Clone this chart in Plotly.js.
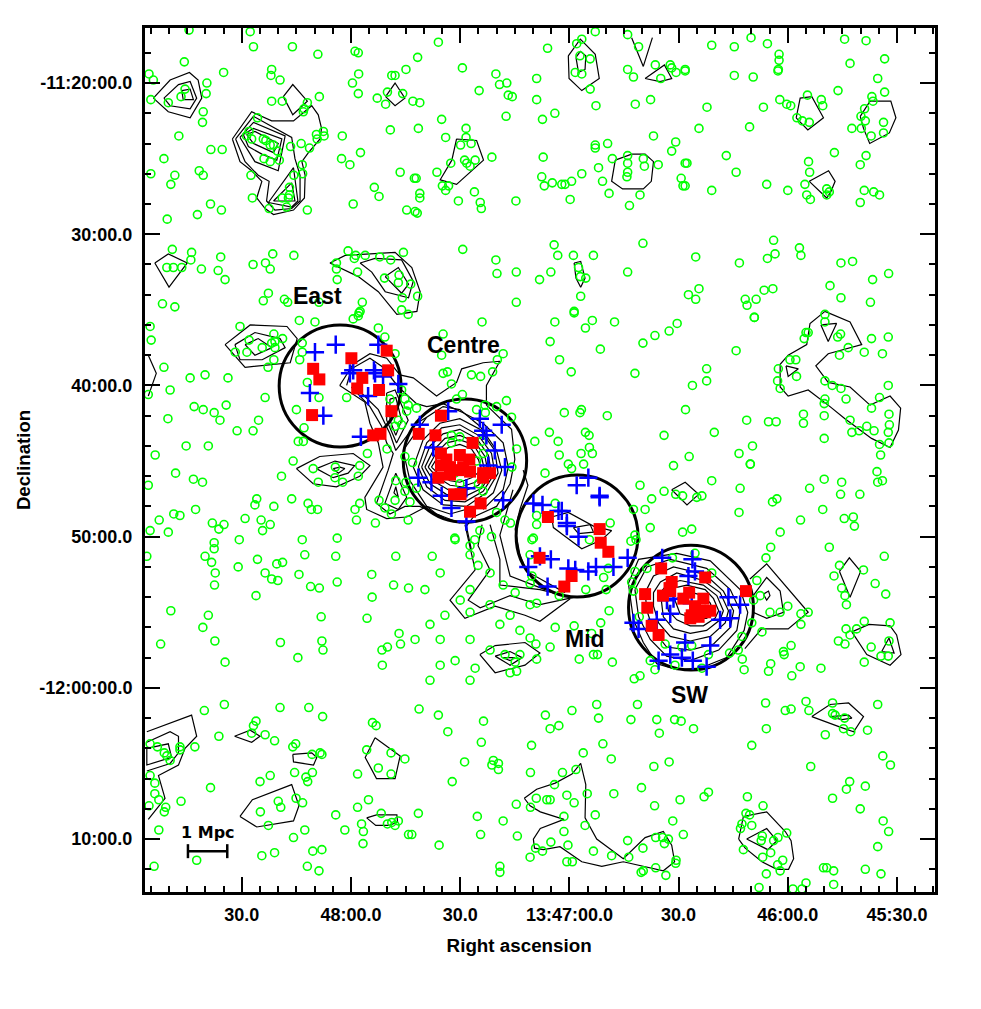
<!DOCTYPE html>
<html>
<head>
<meta charset="utf-8">
<script src="https://cdn.plot.ly/plotly-3.0.1.min.js"></script>
<style>body{margin:0;background:#fff}</style>
</head>
<body>
<div id="plot"></div>
<script>
// RA = seconds of time after 13:45:00, Dec = arcmin south of -11:00:00

var xTickVals = [210, 180, 150, 120, 90, 60, 30];
var xTickText = ['30.0', '48:00.0', '30.0', '13:47:00.0', '30.0', '46:00.0', '45:30.0'];
var yTickVals = [20, 30, 40, 50, 60, 70];
var yTickText = ['-11:20:00.0', '30:00.0', '40:00.0', '50:00.0', '-12:00:00.0', '10:00.0'];

var clusterNames = ['East', 'Centre', 'Mid', 'SW'];
var clusterRa = [183.0, 148.7, 117.9, 86.6];
var clusterDec = [40.04, 44.97, 49.96, 54.69];
var clusterRadius = [4.03, 4.08, 4.03, 4.13];
var labelRa = [189.3, 149.2, 115.7, 86.9];
var labelDec = [34.1, 37.3, 56.8, 60.5];

// green: all galaxies in the field, by part of the sky
var greenNW = [[224.5,16.5],[207.7,16.6],[206.8,17.6],[196.1,17.6],[189.1,18.1],[178.9,17.9],[178,18],[225.8,18.6],[235.5,19.4],[234.3,19.8],[215,19.3],[201.8,19.1],[202,19.5],[199.5,19.8],[177.9,19.4],[179.6,20],[178,20.7],[164.9,19.1],[168.8,19.5],[167.9,19.5],[219.6,20],[219.8,20.7],[225.6,20.4],[226.7,20.9],[230.2,21.3],[235,21.1],[201.8,21.2],[198.9,21.2],[188.7,20.9],[192,21.3],[192.9,21.7],[193.1,21.9],[172.8,21],[170,20.6],[170.5,21.4],[165.8,20.7],[163,21.2],[220.6,21.9],[220.8,22.6],[205.7,22.3],[187.6,23.2],[189.5,23.4],[189.3,23.7],[187.4,23.5],[182.4,23.5],[169.2,23.1],[227.3,23.5],[208,23.2],[208.7,23.5],[207.3,23.7],[204.1,23.7],[203.4,23.8],[202.2,24.1],[201.3,24.1],[196.6,24.2],[193.7,24],[191.4,24.3],[218.5,24.4],[215.4,24.4],[231.4,25],[200.2,24.5],[203.9,25],[202.2,25.2],[199.7,25.1],[182.6,25],[180.3,25.4],[177.4,24.6],[235,26],[228.4,26.1],[221.7,25.8],[220.6,26.1],[229.5,26.7],[207.5,26.1],[193.4,25.4],[193.3,26],[195.7,26.1],[166.5,25.9],[162.6,26.3],[173.6,26.9],[172.3,27.5],[196.9,26.9],[196.9,27.4],[198.9,27.6],[197.2,27.6],[207.1,27.6],[218.6,28],[215.6,28.4],[222.2,28.7],[179.4,28],[202.5,28.3],[197.7,28.2],[192,28.4],[164.7,28.4],[230.5,29],[162.4,28.5],[229.1,31],[223.8,31.2],[224,31.7],[215.8,31.5],[201.5,31.3],[195.7,31.4],[206.9,32],[203.5,31.9],[202.2,32.3],[180.8,31.1],[178.7,31.4],[179.1,31.6],[176.1,31.4],[172.1,31.5],[169.1,31.7],[165.6,31.2],[184,31.9],[184,32.3],[178.2,32.5],[230.6,32.2],[228.8,32.2],[226.5,32.2],[221.1,32.3],[216.5,32.4],[214.6,33],[183.8,33],[170.8,32.9],[166.8,32.7],[167,33.2],[163.6,33.3],[202.7,33.9],[204.1,34.4],[198.3,34.3],[197.4,34.5],[188.8,34.5],[176.9,34.5],[177.5,35.1],[178,35.4],[165.9,34.2],[166.1,35],[231.8,34.6],[228.4,34.8]];
var greenEastCentre = [[194.2,35.7],[189.9,35.8],[179.4,35.6],[177.8,35.2],[164.3,35.3],[172.5,36.2],[170.7,36.8],[144,35.8],[154.7,36.6],[201.2,36.6],[198.8,36.9],[201.8,37.2],[200.9,37.5],[193.4,37.2],[193.4,37.8],[194.1,38.3],[201.2,38.3],[155.1,38],[138.2,37.9],[139.8,38.3],[167.9,37.9],[146.9,39.3],[144.4,39.4],[141.1,39.1],[154.7,39.2],[153.5,39.1],[152.4,39.9],[149.4,40.6],[151,40.9],[137.3,41],[143.2,41.3],[143.1,41.8],[145.5,41.6],[140,41.4],[135.9,42.1],[192,39.8],[188.8,40.8],[181.2,40.8],[169.3,40.9],[166.1,40.3],[165.2,40.9],[164.3,41.3],[162,41.5],[164.7,41.7],[167,42.3],[195,41.6],[192.9,42.8],[166.1,42.6],[167.9,42.7],[194.5,43.7],[193.1,43.7],[170.1,44.2],[175.5,44.5],[195.9,45],[190.4,45.5],[184.3,45.4],[177.6,45.3],[199.1,46],[189,46.4],[184.4,46.1],[182.3,46.4],[178,46],[129.5,43.7],[134.5,44.2],[165.2,44.7],[163.1,45.1],[167.7,46.3],[164.9,46.4],[165.2,47],[167.9,47.6],[172.3,47.6],[177.6,47.8],[178.9,48.2],[178.5,48.9],[196.3,47.5],[191.8,47.8],[190.9,48.2],[189.2,48.2],[201.2,48],[193.4,50.2],[183.8,50.1],[173.3,49.1],[170.7,48.1],[168.9,48.5],[163.8,47.7],[162,46.8],[164.3,48.9],[152.4,43.3],[150.1,43.4],[152.4,43.8],[144.1,43.7],[143.7,44.5],[145.5,45],[151.5,45.8],[145,46.5],[150.1,46.5],[143.7,47],[140,48.4],[137.7,48.9],[136.2,49.1],[144.6,49.6],[146,50.2],[147.3,50.6],[141.4,50],[151.5,50.1],[129.9,50.1]];
var greenMidSW = [[135.8,45.4],[126.7,45.8],[120.3,45.2],[116.1,45.2],[119.4,45.5],[91.4,45.3],[70.3,45.2],[80.9,46.3],[100.6,46.6],[97.4,47.5],[94,47],[90.8,47.2],[88.9,47.3],[85,47.4],[83.6,47.3],[73.1,46.8],[64.2,47.7],[63,47.5],[102.4,48.2],[99.2,48.2],[73.4,48.4],[123.9,47.8],[129,48.6],[129,49.2],[108.8,49.1],[97.8,49.4],[88.9,49.7],[86.4,49.5],[130.3,50.2],[114.5,50.2],[102,49.9],[101.7,50.2],[103.1,50.3],[62.1,49.7],[64.7,50.7],[66,51.4],[130.8,51.2],[91.7,51.4],[85.5,51.1],[98.7,52.1],[109.3,52.1],[102,52.3],[130.3,52.6],[110.6,52.7],[80.9,52.4],[68.5,52.9],[102.9,53],[130.8,53.1],[115.5,53.5],[109.9,53.5],[102.4,53.6],[134.9,53.7],[122.8,53.9],[67.6,53.9],[69.4,54.2],[129,54.4],[130.8,54.5],[109.1,54.9],[64.9,55],[62.1,55],[100.8,55.3],[123.9,56],[118.7,55.9],[111.4,55.7],[69.9,55.7],[113.9,56.4],[67.1,56.3],[72.6,56.6],[130.8,56.7],[129.2,57.1],[125.3,57.3],[113.4,57.8],[112.3,57.8],[117.3,58.1],[129,58.1],[134.9,58.3],[134.5,58.9],[108.2,58.3],[93.7,57.1],[89.1,57.3],[86.4,57.2],[81.8,57.8],[97.8,58.2],[96.5,58.8],[91,58.5],[83.6,58.7],[76,57.7],[73.6,57.5],[72.5,58.1],[64.7,58.4],[65.3,58.9],[72,58.8],[102.2,59.4],[100.6,59.2]];
var greenEastEdge = [[69.2,35.5],[49.8,35.3],[49.8,35.8],[54.4,36.5],[55,36.5],[55.5,36.9],[45.5,36.6],[46.3,36.8],[37,36.9],[32.4,36.8],[43.4,37.5],[45.8,38],[39,37.8],[34,37.9],[59.4,38.3],[57.8,38.3],[62.6,38.9],[57.6,39.4],[62.8,39.7],[62.1,40.2],[49.8,39.7],[47.8,40],[45.4,40.2],[32.4,40],[44,40.9],[34.8,40.8],[37,41.5],[49.8,40.9],[50,41.2],[55.7,41.9],[55.7,42.5],[50,42],[71.3,42.3],[65.3,42.4],[63.2,42.4],[42.9,42.3],[32.2,41.9],[32.1,42.6],[38.3,42.7],[42.4,43.1],[40.4,43],[36.3,43],[32.4,43.1],[50,43.5],[69.7,44],[34.8,43.9],[32.2,43.8],[34.5,44.6],[70.3,45.2],[35.5,45.7],[34,46.3],[35.3,46.4],[50,46.2],[45.2,46.4],[54,46.8],[45.5,47.2],[40.2,47.2],[50.4,48.2],[44.5,48.8],[42,48.7],[41.7,49.3],[56.5,48.9],[48.6,50.7],[33.5,51.3],[45.8,51.9],[47.3,52.6],[39.2,52.2],[36,53.1],[45.2,53.4],[44.3,53.9],[33.1,53.8],[43.9,54.5],[60,54.6],[56.4,55.1],[54.4,55],[56.4,55.8],[44,56.1],[41.1,56.1],[39,55.6],[42.9,56.5],[31.9,55.7],[46.1,56.9],[44.3,57.1],[32.2,56.9],[37.1,57.3],[34.4,57.9],[32.4,57.9],[59.1,57.2],[61.2,57.6],[61,57.8],[39,58.3],[56.6,58.6],[50.9,58.7],[58.9,59.2]];
var greenTopMid = [[156,17.3],[161.7,18.3],[126,17.7],[112.9,16.6],[116.6,17.1],[118,17.4],[117.1,18.2],[114.3,18.4],[104,16.8],[101,17.6],[149.4,19],[140.2,19.4],[139.2,20.1],[137.2,20],[144.8,20.5],[136.8,20.8],[135.7,20.9],[129,19.7],[129,21.1],[118.4,19.3],[116.6,19.4],[114.3,20.4],[104,19.1],[102.4,19.6],[96.4,18.8],[92.3,18.8],[91.9,19],[90.7,19.3],[94.9,19.7],[88.2,19.1],[161.1,21.3],[112.7,21.5],[101.9,21.4],[97.7,21.1],[137.4,22.2],[127.4,22.4],[124,22],[155.1,22.4],[161.5,23],[148.4,23],[154,23.6],[148.4,23.6],[149.9,24.1],[147,24],[96.9,23.5],[90.8,23.9],[109.5,24],[112.9,24.1],[112.9,24.3],[91.9,24.5],[141.3,24.9],[127.2,24.9],[108.2,25],[104,24.8],[99.7,25],[148.8,25.1],[145.9,25.1],[148.2,25.3],[147.3,25.5],[152.6,25.3],[112,25.6],[104,25.3],[99.4,25.5],[95.6,25.4],[88.2,25.3],[156.4,25.9],[162.1,26.3],[127.6,26.2],[116.6,26],[104,25.9],[104.2,26.2],[110.9,26.5],[119.4,26.5],[124.7,26.6],[122.1,26.7],[121.2,26.7],[126.9,26.8],[154.9,26.8],[153.2,26.8],[154,27.1],[146.1,27.2],[89.3,26.3],[88.8,26.8],[109.1,27.3],[161.1,27.3],[161.1,27.6],[100.6,27.4],[150.5,27.8],[144.5,27.9],[144.2,28.3],[134.7,27.8],[119.8,27.7],[103.5,28.1],[161.8,28.6],[124.2,30.7],[99.8,30.6],[149.3,31],[140.2,31.7],[123.2,31.4],[118.9,31.4],[113.4,31.4],[139.9,32.6],[134.6,32.5],[125.1,32.5],[104,32.5],[128.2,33],[117.5,32.2],[117,32.8],[115.5,32.9],[116.9,34.1],[134.6,34.5],[118.7,35.1],[161.7,34.1]];
var greenTopRight = [[70.1,17],[80.9,17.5],[74.7,17.6],[65.6,17.4],[44.4,17.1],[38.5,17.2],[62.4,18.1],[62.4,18.5],[33.4,18.4],[62.6,19.1],[62.7,19.2],[42.9,18.7],[88.2,19.2],[74.7,19.5],[69.5,19.6],[35.3,19.7],[46.2,20.5],[33.4,20.6],[54.6,20.8],[62.2,21.1],[60.3,21.4],[59.2,21.5],[50.8,21.1],[50.4,21.5],[36.9,20.9],[36.6,21.2],[82.2,21.6],[66.7,21.6],[38.9,21.7],[39.9,22.2],[57.5,22.3],[56,22.5],[54.1,22.6],[38.7,22.5],[70.5,22.9],[84.4,23],[42.4,23],[39.8,23],[33.7,22.6],[33.7,23.3],[37.1,23.5],[47.2,24.6],[76.9,24.8],[38.5,24.8],[87.7,25.3],[40.1,25.4],[54.3,25.2],[74.2,25.9],[54,25.9],[65.8,26.7],[88.2,26.8],[80.9,27.1],[60,27.1],[55.3,26.7],[49.3,27],[48.6,27.2],[49.3,27.4],[54.8,27.4],[53.8,27.7],[39,27.1],[36.4,27.2],[34.8,27.4],[40.1,27.9],[63.9,30.4],[56.8,30.9],[56.4,31.4],[85.3,31.5],[63.5,31.3],[65.6,31.6],[73.3,31.9],[45.4,31.9],[42.2,31.8],[32.3,32.6],[36.7,33],[84.4,33.6],[48.4,33.4],[87.3,34],[85.3,34.3],[66.5,33.7],[64.1,33.6],[71.7,34.3],[68.7,34.3],[71.2,34.7],[45.4,34.2],[37.3,34.5],[69.2,35.5]];
var greenWest = [[219.2,44],[228.2,45.8],[223.3,46.2],[220.8,46.4],[235.7,46.6],[205.9,47.5],[206.4,47.9],[222.7,48.2],[228.7,48.5],[227,48.6],[232.7,48.9],[209.1,48.8],[218.1,49.1],[214.9,49.2],[216.3,49.5],[204.7,48.9],[202.2,49.2],[204.3,49.6],[235.2,49.6],[230.2,49.7],[210.7,50.2],[217.6,50.4],[217.6,50.8],[236.1,51.3],[220.1,51.3],[218.3,51.7],[205.7,51.5],[192.7,51.2],[184.2,51.3],[167.7,51.3],[198.8,51.7],[200.4,51.8],[211,52],[217.3,52.4],[203.6,52.4],[194.3,52.5],[201.8,52.8],[200.1,52.9],[174.3,52.5],[183.8,53],[217.5,53.2],[191.1,53.3],[188.7,53.4],[168.3,53.2],[164.2,53.4],[206.1,53.9],[174.2,54],[229.5,54.9],[219.2,55.2],[188.2,55.3],[175.6,55.4],[220.7,56],[166.8,56.4],[217.4,56.9],[232.3,57.1],[199.4,57],[188,56.9],[166.4,57.1],[170,57.3],[171.5,57.5],[187.7,57.5],[194.6,58],[214.6,58.3],[171.4,58.5],[210.5,36.1],[208,37],[211.8,37.8],[208.6,37.8],[204.4,37.5],[200.9,37.1],[202.8,38.8],[235.2,36.1],[234.9,37],[231.4,38.8],[224.2,39.5],[217.6,41.8],[220.6,41.6],[214.3,41.3],[235.7,40.6],[230.3,42.2],[223.1,41.4],[206.9,43],[211.3,43],[216,42.3],[225.3,44],[233.8,44.6],[229.7,40.3],[220.1,39.3],[213.8,39.5],[203.6,40.8],[205.4,42.3]];
var greenBridge = [[157.7,51.3],[151.4,50.2],[147.3,51.2],[145.1,51.9],[141.8,52.4],[138.2,53.2],[155.5,52.4],[159.7,53.5],[147.3,53.5],[150,54.2],[154.2,55.2],[147.3,55],[141.8,54.5],[136.3,55.2],[158.3,55.8],[139.1,55.8],[133.6,56.2],[155.5,56.8],[162.4,56.8],[147.3,56.8],[141.8,57.5],[137.7,57.8],[133.6,57.8],[151.4,58.2],[155.5,58.5],[145.9,58.7],[158.3,59.5],[147.3,59.5],[136.3,59]];
var greenSouthWest = [[220.3,61.5],[214.8,61.1],[199.5,61.3],[191.6,61.3],[187.8,61.9],[206.1,62.2],[206.8,62.5],[207.3,63],[203.6,63.1],[201,63.5],[216.3,63.2],[174.1,62.3],[173.1,62.5],[235.2,63.7],[233.2,63.9],[227,63.9],[227,64.1],[222.9,63.9],[231.3,64.3],[230.6,64.5],[229.7,64.8],[196,63.9],[195.2,63.7],[190.7,64.4],[188.5,64.3],[188,64.4],[175.7,64.1],[169,64.3],[165.2,64.7],[172.5,65.3],[169,65.7],[235.2,65.8],[202.2,65.8],[205,66.2],[195.5,65.6],[190.6,65.6],[192.4,65.9],[191.9,66.2],[178.2,65.7],[233.9,66.3],[218.6,66.6],[233.9,67],[232.8,67.4],[235.5,67.8],[230.9,67.9],[231.3,68.2],[226.7,67.5],[200,67.5],[199.3,67.9],[195.1,67.3],[193.3,67.6],[204.9,68.2],[175.2,67.4],[178.2,67.9],[184.2,68.4],[171.7,68.3],[177.1,69],[170,69],[168.8,68.9],[167.9,69.1],[167,68.8],[202.7,69.1],[232.8,69.4],[192.7,69.4],[181.7,69.4],[176.6,69.5],[164.2,69.7],[163.3,69.7],[195.8,69.9],[176.7,70.3],[204.5,71.1],[201,70.9],[190.5,70.8],[188,70.7],[222.4,71.4],[192,71.8],[188.8,72.1],[234.1,71.8]];
var greenSouthMid = [[161.3,61.4],[156,61.8],[143.6,62.2],[153.4,62.9],[144.2,63.6],[148.8,64.9],[140.9,64.8],[141.3,65.1],[139.5,65],[139.5,65.4],[152.2,66.2],[126.6,61.8],[119.3,61.5],[112.5,61.1],[101.3,61.1],[112,62],[103.1,62.1],[96,62.1],[91.1,62.1],[89.3,62.2],[125.3,62.7],[122.9,62.5],[95.3,63],[130.4,63.8],[110.8,63.7],[116.2,64.3],[108.5,64.7],[96.8,65.2],[92.6,64.9],[130.7,65.6],[121.9,65.6],[118.2,65.4],[124.1,66.4],[100.2,66.6],[115.1,67],[107.8,67],[120.7,67.1],[129.1,67.3],[126.2,67.4],[125.3,67.4],[118.7,67.6],[134.6,67.7],[130.7,67.9],[96.6,67.8],[89.6,67.4],[161.5,68.3],[145.3,68.5],[112.9,68.4],[121.5,68.5],[138.2,68.8],[115.7,69.1],[91.6,68.8],[121.5,69.5],[144.4,69.7],[134.3,69.8],[88.7,69.7],[96.3,69.9],[94.4,69.9],[92.8,70],[93.9,70.3],[104,70.1],[125.1,70.2],[155.8,70.4],[120.4,70.4],[99.8,70.6],[113.4,70.8],[129.3,70.6],[127.4,70.8],[130.8,71.2],[108.4,71.1],[103.7,71.2],[139.1,71.8],[139.1,72.2],[120.7,71.5],[119.2,71.5],[90.7,71.4],[90.8,71.6],[96.3,71.9],[99.7,72.1],[100.3,72.2],[93.5,72.4]];
var greenSouthEast = [[66.1,61],[55,60.9],[47.7,61],[60.7,61.5],[59.1,61.4],[54.2,61.5],[35.3,61.1],[47.7,61.7],[47,61.8],[44.4,62],[85.9,62.7],[65.9,62.7],[44.7,62.7],[42.7,62.9],[38.1,62.8],[49.7,63.1],[69.9,63.8],[33.9,64.5],[31.8,65.1],[53.7,65.2],[43,66.2],[43.9,66.7],[38.7,66.5],[81.8,66.9],[83,67.2],[71.1,67.2],[47.7,67.3],[66.8,67.8],[40.1,68],[71.5,68.3],[70.5,68.4],[33.8,68.8],[72.6,69],[73,69.3],[69.9,69.1],[32.3,69.5],[60.3,69.6],[62.7,69.9],[67,69.8],[67.3,70.1],[63.9,70.1],[35.3,70.5],[72.2,70.7],[64.7,70.9],[66.9,71.2],[61.4,71.4],[62.8,71.7],[62.1,72.1],[65.9,72.3],[50.2,71.9],[49.3,71.9],[47.4,72.1],[38.7,72],[34.4,72.3],[55,72.9],[47.4,73],[67.9,73.2],[58.6,73.3],[56.1,73.3]];
var greenGap = [[118.7,35.2],[124,35.8],[113.7,35.7],[115.6,36.2],[107.6,35.8],[90.4,35.9],[92.6,36.4],[96.5,36.7],[99.8,37.2],[125.3,37.1],[111.5,37.6],[122.7,38.3],[74.2,37.7],[119.5,39.1],[102,39.2],[82.3,38.9],[82.3,39.7],[86.2,40],[88.1,41.6],[121.4,41.8],[116.7,41.6],[117.1,41.8],[109.6,42],[125.5,43.1],[123.1,43.7],[115.6,43.1],[114.6,43.3],[80.2,43.1],[94,43.3],[114.5,44.1],[113.7,44.5],[122.8,44.6],[116.8,44.5],[73.4,44.5],[87.1,44.7]];

// red: confirmed members
var redMembers = [[179.9,38.2],[170.2,37.7],[190.4,38.9],[188.7,39.6],[176.9,39.5],[169.8,39],[178.3,40.2],[172.3,40.3],[190.7,41.96],[168.9,41.7],[171.9,43.2],[173.9,43.3],[155.3,42],[161.4,43.2],[156.8,43.3],[146.6,43.8],[155.3,44.5],[150.1,44.6],[147.5,44.9],[155.3,45.3],[152.8,45.4],[150.5,45.6],[147.3,45.7],[143.7,45.8],[141.8,45.8],[156,46.1],[152.8,45.9],[143.7,46.1],[151.7,47.2],[149.9,47.2],[144.4,47.8],[147.3,48.35],[153.8,44.9],[149.2,45.4],[125.9,48.7],[111.7,49.5],[111.4,50.4],[109.3,51],[128.2,51.4],[119.4,52.6],[121.4,53.3],[94.8,52.1],[82.7,52.7],[99.2,53.8],[98.6,54.7],[97.4,55.9],[95.5,56.5],[71.5,53.6],[91.9,53],[92.5,53.4],[94.3,53.9],[92.3,53.6],[88.7,54.1],[87.1,53.7],[83.2,54.1],[85.5,54.6],[86.4,55.2],[84.1,54.9],[81.3,54.9],[82.7,55],[86.8,55.4],[84.5,55.3]];

// blue: the other spectroscopic sample
var blueCrosses = [[184.2,37.3],[189.9,37.8],[172.5,37.3],[180.3,39.2],[179.4,39],[173.7,39],[173.4,39.2],[171.2,39.4],[167,39.9],[191.3,40.5],[175.3,40.7],[187.6,42],[177.3,43.4],[161.1,42.6],[153.3,41.7],[144.6,42.2],[138.6,42.6],[143.7,43],[142.8,43.3],[140.5,44.3],[157.4,44.1],[137.7,45.4],[142.3,45.3],[161.5,46.1],[157.9,46.4],[155.1,47.3],[148.3,46.8],[138.2,47.6],[152.4,48.1],[148.3,49],[118,46.6],[114.8,46.1],[111.7,47.3],[111.7,47.4],[129.9,47.8],[127.4,47.9],[123,48.3],[122.1,48.3],[120.7,49.3],[120.7,49.1],[117.5,50],[128.1,51.3],[131.3,52],[125.1,51.5],[120.3,52.1],[118.4,52.2],[126,53.3],[114.8,52.3],[112.7,52],[107.9,52],[104,51.4],[94.5,51.4],[86.2,51.5],[85.5,52.3],[87.3,52.6],[102.4,55.7],[101,56.1],[96,55.5],[92.3,55.1],[88.2,57],[81.3,57.2],[95.5,58.2],[92.3,57.8],[89.1,58],[86.1,58.2],[82.3,58.6],[76.3,54],[73.1,54.5],[78.6,55.5],[75.8,55.4],[86.4,54.4],[91.4,54.1],[93.2,54.2]];

// density contours, closed loops
var closedContours = [
  [[234.3,21],[229.7,19.8],[224.4,19.3],[222,19.8],[221,21],[224.2,22.3],[230.2,21.9]],
  [[231.4,21],[227.4,20.1],[224.2,19.9],[222.4,21],[224.2,21.7],[229.7,21.5]],
  [[226.5,20.5],[224.2,20.4],[223.3,21.1],[226.1,21.1]],
  [[198.6,20.9],[196,20.1],[192,21.2],[196,22.1]],
  [[212.6,23.7],[207.3,21.9],[201.8,22.5],[195.8,22.5],[190.8,21.5],[189,22.1],[188.1,23],[188.5,23.7],[191.7,24.6],[193.5,25.2],[192.6,26.1],[192.8,27.6],[195.8,28.4],[201.3,28.7],[203.6,28.3],[205.9,27.6],[204.5,26.5],[207.3,25.8],[210.5,25.2]],
  [[211.7,23.7],[206.8,22.2],[196.3,23.6],[195.4,25],[194,26.1],[194,27.8],[196.3,28.3],[200.9,28.4],[203.2,27.8],[202.5,26.5],[205.5,26.1],[209.1,25.2]],
  [[210.5,23.6],[206.8,22.6],[198.1,23.5],[200,25.8],[206.4,25.2]],
  [[209.6,23.4],[206.8,23],[199,23.7],[200.4,25.1],[204.5,24.7],[208.2,24.2]],
  [[208.7,23.4],[206.4,23.2],[200,24],[201.3,24.6],[206.8,24]],
  [[201.3,27.8],[196.3,26.6],[195.4,27.8]],
  [[202.7,27.9],[195.8,25.6],[194.6,27.8],[196.3,28.2]],
  [[233.9,31.9],[230.2,31.3],[225,31.9],[230,33.5]],
  [[170.5,20.9],[167.9,20],[165.2,21],[167.9,21.5]],
  [[185.8,31.9],[181.6,31.4],[167.9,31.2],[163.3,32.2],[161,33.8],[161.9,35.1],[167.4,35.3],[172.5,33.8],[178,32.8],[182.6,32.3]],
  [[177.5,31.9],[173.4,31.6],[166.1,31.7],[162.9,33.1],[164.2,34.2],[170.6,33.8],[174.3,32.5]],
  [[170.6,32.8],[167,32.2],[164.2,33.3],[166.1,33.9]],
  [[214.6,37.3],[207.7,36],[197.6,36.1],[194.8,36.9],[196.7,38.5],[209.1,38.8]],
  [[211.9,37.3],[206.4,36.5],[199.5,36.9],[198.1,37.5],[204.4,38.3],[210.5,38.3]],
  [[209.1,37.3],[205.5,36.9],[201.7,37.5],[206.4,38]],
  [[195,45.5],[188.6,44.7],[179.4,44.5],[174.8,45.3],[177.6,46],[184,46.7],[190.4,46.5]],
  [[189.5,45.5],[184.4,45],[179,45.3],[180.8,45.8],[184.9,46.1]],
  [[184.9,45.5],[183,45.4],[181.7,45.5],[183.5,45.8]],
  [[165.7,44.3],[159.2,42.1],[154.7,41.4],[150.1,41.6],[144.6,42.7],[140,44.3],[138.6,45.6],[140.9,47.1],[145.5,48],[152.8,48.5],[159.2,48],[163.8,46.3]],
  [[162.9,45.4],[160.2,43.6],[155.6,42.5],[150.1,42.2],[144.6,42.9],[140.5,44.3],[139.6,45.8],[142.8,47.1],[148.3,48],[154.7,47.9],[160.2,46.9]],
  [[161.5,45.4],[159.2,43.8],[155.1,42.8],[150.1,42.6],[145,43.3],[141.4,44.5],[140.5,45.8],[143.7,47],[148.7,47.7],[154.2,47.6],[159.2,46.7]],
  [[160.6,45.4],[158.3,44],[154.7,43.2],[150.1,42.9],[145.5,43.5],[142.3,44.6],[141.4,45.8],[144.1,46.8],[149.2,47.4],[153.8,47.2],[158.3,46.5]],
  [[159.7,45.4],[157.4,44.3],[154.2,43.5],[150.1,43.3],[146,43.7],[143.2,44.7],[142.3,45.8],[145,46.6],[149.2,47],[153.3,46.9],[157.4,46.3]],
  [[158.8,45.4],[156.7,44.5],[153.8,43.8],[150.1,43.6],[146.4,43.9],[144.1,44.8],[143.2,45.7],[145.9,46.4],[149.6,46.7],[152.8,46.6],[156.7,46]],
  [[157.9,45.4],[156.1,44.7],[153.3,44.1],[150.1,43.9],[146.9,44.2],[145,44.9],[144.1,45.6],[146.9,46.1],[150.1,46.4],[152.8,46.3],[156.1,45.8]],
  [[170.2,40.5],[167.9,40.3],[164.3,42.3],[167.5,43.8],[170.2,42.3]],
  [[169.3,40.9],[167.7,40.8],[166.1,42.3],[167.7,43.3],[169.3,42.3]],
  [[170.7,47.8],[167.7,45.8],[164.7,47.4],[167,48.2]],
  [[167.7,46.7],[168.2,47.1],[167,47.4]],
  [[124.9,48.7],[120.3,48.4],[113.4,49.3],[108.4,49.6],[111.1,50.2],[116.6,50.8],[121.6,49.9],[124.4,49.4]],
  [[118.9,49.4],[114.3,49.2],[113.4,49.7],[117.5,49.8]],
  [[144.6,57.8],[140.4,57.2],[132.2,57],[128.1,57.7],[132.2,58.5],[140.4,59]],
  [[140.4,57.9],[136.3,57.6],[133,58],[136.3,58.5]],
  [[138.2,58],[135,58],[136.3,58.2]],
  [[91.9,46.9],[88.2,46.4],[84.5,47.2],[87.7,47.9]],
  [[103.8,53.1],[101,51.5],[90.5,51.1],[81.3,51.6],[73.1,53.5],[71,55],[72,56.2],[76.8,58],[84.1,58.7],[90.5,58.8],[96,58.4],[99.7,57],[102.4,55.5]],
  [[102,53.5],[98.7,52],[92.3,51.5],[82.3,52.1],[75.8,53.5],[73.1,54.9],[74,56.2],[79,57.5],[86.8,58.2],[93.3,57.9],[97.8,56.8],[101,55.3]],
  [[99.2,53.7],[96.9,52.6],[91.4,52],[82.7,52.5],[77.7,53.6],[74.9,54.9],[75.8,56],[80.4,57.1],[86.8,57.5],[93.3,57.3],[96.9,56.2],[98.7,54.9]],
  [[96.9,53.7],[95,53],[90.5,52.4],[83.2,52.9],[78.6,53.7],[76.3,54.9],[77.2,55.7],[81.3,56.6],[86.8,56.9],[92.3,56.6],[95.5,55.7],[96.9,54.6]],
  [[95,53.7],[93.3,53.2],[89.6,52.9],[83.2,53.2],[79.5,53.9],[77.7,54.9],[78.6,55.5],[82.3,56.2],[86.8,56.4],[91.4,56.1],[94.2,55.3]],
  [[93.3,54],[91.4,53.4],[87.8,53.2],[82.7,53.5],[80.4,54.1],[79,54.9],[80,55.4],[83.2,55.9],[86.8,55.9],[90.5,55.5],[92.8,54.9]],
  [[91,54.2],[87.8,53.6],[83.2,53.9],[81.3,54.4],[80.4,55],[82.3,55.4],[85.9,55.4],[89.6,55.1]],
  [[69.5,53.9],[65.8,52.7],[62.1,53.6],[61.2,55],[65.8,55.4],[69.5,55]],
  [[66.7,53.8],[65.3,53.6],[64.9,53.9],[65.8,54.2]],
  [[49.8,35.1],[42.9,35.8],[39.7,37.3],[48.9,37.9],[52.3,38.7],[48.9,39.8],[42.9,40.1],[37.4,41.3],[31.9,40.7],[29,41.5],[29.6,42.95],[31.9,44.1],[37,43.5],[44.3,42.2],[48.4,41.4],[54.4,40.3],[59.9,40.7],[62.1,40.1],[62.1,38.6],[59.9,38],[54.8,37.3],[53.9,35.9]],
  [[50.9,36],[46.6,35.9],[48.9,37.1]],
  [[60.5,38.7],[57.1,38.9],[59.9,39.4]],
  [[45.8,52.3],[43.1,51.4],[40,52.3],[42.9,54]],
  [[42.4,56.3],[37.7,55.8],[31.9,55.9],[30.1,56.5],[28.9,57.8],[31.9,58.5],[38.3,57.8]],
  [[34.2,57.6],[32.2,56.7],[30.8,57.7]],
  [[120.3,18.2],[117,17.1],[112.9,18.1],[111.8,19.7],[116.6,20.5],[120.1,19.7]],
  [[118.2,18.3],[117,17.9],[115.5,18.2],[115.7,19.1],[117.5,19.3]],
  [[99.2,19.7],[93.9,18.8],[91.9,19.7],[95.1,19.9]],
  [[151,23.7],[145.5,23.8],[143.6,25.1],[151,26.7],[155.5,26.4],[152.3,25.1]],
  [[107.4,25.1],[102.9,24.7],[99.2,24.7],[96.9,25.2],[97.5,26.5],[99.7,27],[105.4,27],[108.4,26.5]],
  [[118.7,31.9],[116.9,31.8],[115.7,32.9],[116.9,33.5],[118.2,32.9]],
  [[57.7,22.3],[56.6,21],[53.4,20.9],[50.2,22.3],[54.5,23.1]],
  [[40.1,22.2],[37.4,21.2],[31.7,21.2],[30.3,22.3],[32.1,23.3],[37.5,24],[39.2,23]],
  [[54.1,26.5],[48.8,25.8],[47,26.5],[48.2,27.2],[49.3,27.6]],
  [[236.1,64],[230.2,63.7],[229.3,64.6],[236.1,65.1]],
  [[212,63.2],[207.7,62.8],[205,63.2],[207.3,63.6]],
  [[196,64.4],[190.8,64.3],[189.4,64.6],[190.3,65.1],[195.8,64.9]],
  [[173.4,63.3],[166.5,64.5],[167.9,66],[173,66],[176.1,64.6]],
  [[210.5,68.5],[207.1,67.4],[196.3,66.4],[194.3,67.8],[195.8,68.8],[205.9,69.2]],
  [[175.7,68.6],[173,68.4],[167.4,68.4],[167.2,68.9],[169.7,69.1],[173.2,69.1]],
  [[132.4,67.3],[129,66.7],[123.9,66.3],[119.3,65.7],[116.9,65],[115.5,66.4],[115.7,68.6],[112.5,70],[105.2,71.3],[99.2,69.9],[94.2,69.5],[91.9,70.4],[91.1,71.5],[94.2,72.1],[105.2,71.5],[111.1,71.8],[116.6,71.5],[122.6,70.5],[127.1,70.7],[129.6,70.6],[129.9,70],[128,69.3],[121.5,68.7],[128,68.2],[130.8,67.8]],
  [[53.4,61.9],[48.4,61.1],[43.3,61],[39.2,61.9],[41.9,62.9],[45.6,62.6]],
  [[48.4,61.9],[43.3,61.8],[42.4,62],[45.1,62.1]],
  [[73.5,70],[72.2,68.5],[65.8,68.2],[60.7,69.5],[59.1,70.1],[58.4,71.3],[59.8,72],[63,72],[67.1,71.5],[71.7,70.6]],
  [[71.3,70],[65.8,69.3],[63,70.1],[65.5,70.7]]
];

// contours that run on or leave the field
var openContours = [
  [[183.1,40],[179.4,38.6],[174.8,37.9],[170.2,38.2],[166.6,39.3],[162.9,39.5],[156.5,40.7],[151,39.8],[149.6,38.9],[143.7,38.5],[139.1,38.4],[142.8,40],[142.8,41.3],[135.9,42.9],[135,44.9],[136.3,46.5],[140,48],[146.4,48.7],[148.3,49.3],[146.9,50.9]],
  [[183.1,40],[176.2,41.1],[174.8,42.5],[172.5,43.8],[171.2,45.4],[176.2,47.4],[175.7,48.2],[170.2,48.8],[164.7,48.7],[159.2,48],[156.5,48.5],[150.1,49.1]],
  [[181.2,40],[179.9,38.9],[174.8,38.2],[171.2,38.8],[167,40.1],[162,41.2],[159.2,41.4],[154.7,41.2],[149.2,41.8],[143.7,42.5],[138.2,43.8],[136.8,45.4],[138.2,46.9],[143.7,48.2]],
  [[179.9,40.1],[174.8,41.4],[171.6,42.7],[170.2,43.8],[168.4,44.5],[169.8,45.6],[173,47.8],[169.3,48.5],[165.2,48],[161.1,48],[154.7,48.7]],
  [[178,40.3],[172.5,41.6],[169.3,43.2],[167.7,44.3],[166.1,43.8],[162,42.5],[159.2,42.1]],
  [[148.7,49.2],[147.3,50.6],[145.9,52.2],[152.8,54.2],[148.7,55.4],[140.4,54.6],[132.2,55.2],[128.1,55.6],[119.8,54.1]],
  [[144,49.2],[145.1,50.6],[141.8,52.2],[147.8,54.2],[144.5,54.7],[136.3,53.9],[128.1,54.5],[118.5,54]],
  [[141.8,49.2],[139.1,51.5],[139.1,53.2],[128.1,53.5],[121.2,53.9]],
  [[132.7,45.6],[131.4,46.6],[133.6,48.2],[134.9,49.5],[133.6,51.2],[131.7,52.3],[121.2,53.7]],
  [[135.5,46.9],[139.1,49.9],[136.3,52.6],[126.7,53.5]],
  [[70.4,52.8],[65.8,51.8],[54.4,55],[59.9,56.1],[67.2,56.1],[71.8,57.4]],
  [[69.5,53.9],[69.5,55]],
  [[102.9,17],[99.7,18.9],[97.2,17]],
  [[236.1,62.9],[223.8,61.8],[222.4,63.2],[225.6,64],[227.4,65.1],[232.9,65.8],[231.1,67.3],[235.7,68.7]],
  [[236.1,63.6],[229.7,62.9],[227.4,63.2],[227.4,64.3],[229.7,65],[236.1,65.5]],
  [[235.7,38],[233.5,39.2],[235.7,40.7]]
];

// scale bar, RA of both ends and its Dec
var scaleBarRa = [224.8, 214.0];
var scaleBarDec = 70.8;

var greenAll = greenNW.concat(greenEastCentre, greenMidSW, greenEastEdge, greenTopMid, greenTopRight,
  greenWest, greenBridge, greenSouthWest, greenSouthMid, greenSouthEast, greenGap);

// Flat x/y with null breaks so each contour stays separate
function contourLines() {
  var xs = [], ys = [];
  closedContours.forEach(function(c) {
    c.concat([c[0]]).forEach(function(p) { xs.push(p[0]); ys.push(p[1]); });
    xs.push(null); ys.push(null);
  });
  openContours.forEach(function(c) {
    c.forEach(function(p) { xs.push(p[0]); ys.push(p[1]); });
    xs.push(null); ys.push(null);
  });
  return {x: xs, y: ys};
}

function first(list) { return list.map(function(p) { return p[0]; }); }
function second(list) { return list.map(function(p) { return p[1]; }); }

var lines = contourLines();

var data = [
  {
    x: lines.x, y: lines.y, type: 'scatter', mode: 'lines',
    line: {color: 'black', width: 1.2}, connectgaps: false, hoverinfo: 'skip'
  },
  {
    x: first(greenAll), y: second(greenAll), type: 'scatter', mode: 'markers',
    marker: {symbol: 'circle-open', size: 8, color: '#00ff00', line: {width: 1.6, color: '#00ff00'}}
  },
  {
    x: first(blueCrosses), y: second(blueCrosses), type: 'scatter', mode: 'markers',
    marker: {symbol: 'cross-thin-open', size: 13, color: '#0000ff', line: {width: 2.5, color: '#0000ff'}}
  },
  {
    x: first(redMembers), y: second(redMembers), type: 'scatter', mode: 'markers',
    marker: {symbol: 'square', size: 12, color: '#ff0000'}
  },
  {
    x: scaleBarRa, y: [scaleBarDec, scaleBarDec], type: 'scatter', mode: 'lines+markers',
    line: {color: 'black', width: 2.5},
    marker: {symbol: 'line-ns-open', size: 10, color: 'black', line: {width: 2.5, color: 'black'}}
  }
];

var shapes = clusterRa.map(function(ra, i) {
  var rx = clusterRadius[i] * 4.154; // s of RA per arcmin on this plot
  return {
    type: 'circle', xref: 'x', yref: 'y', layer: 'below',
    x0: ra - rx, x1: ra + rx,
    y0: clusterDec[i] - clusterRadius[i], y1: clusterDec[i] + clusterRadius[i],
    line: {color: 'black', width: 3}
  };
});

var annotations = clusterNames.map(function(name, i) {
  return {
    x: labelRa[i], y: labelDec[i], xref: 'x', yref: 'y', text: '<b>' + name + '</b>',
    showarrow: false, font: {family: 'Liberation Sans', size: 23, color: 'black'}
  };
});
annotations.push({
  x: (scaleBarRa[0] + scaleBarRa[1]) / 2, y: scaleBarDec - 1.25, xref: 'x', yref: 'y',
  text: '<b>1 Mpc</b>', showarrow: false,
  font: {family: 'DejaVu Sans', size: 16, color: 'black'}
});

var axisCommon = {
  showgrid: false,
  zeroline: false,
  showline: true,
  linecolor: 'black',
  linewidth: 3,
  mirror: 'allticks',
  ticks: 'inside',
  ticklen: 15,
  tickwidth: 1.5,
  tickcolor: 'black',
  tickfont: {family: 'Liberation Sans', size: 18, weight: 'bold', color: 'black'},
  tickmode: 'array'
};

var layout = {
  width: 981,
  height: 1009,
  margin: {l: 145, r: 46, t: 28, b: 117},
  paper_bgcolor: 'white',
  plot_bgcolor: 'white',
  showlegend: false,
  font: {family: 'Liberation Sans', color: 'black'},
  shapes: shapes,
  annotations: annotations,
  xaxis: Object.assign({}, axisCommon, {
    range: [236.6, 19.56],
    tickvals: xTickVals,
    ticktext: xTickText,
    ticklabelstandoff: 4,
    minor: {dtick: 5, tick0: 0, ticks: 'inside', ticklen: 6, tickwidth: 1.5, tickcolor: 'black', showgrid: false},
    title: {text: '<b>Right ascension</b>' + '&nbsp;'.repeat(8), standoff: 16, font: {size: 18.8, family: 'Liberation Sans'}}
  }),
  yaxis: Object.assign({}, axisCommon, {
    range: [73.5, 16.36],
    tickvals: yTickVals,
    ticktext: yTickText,
    ticklabelstandoff: 6,
    minor: {dtick: 2, tick0: 0, ticks: 'inside', ticklen: 6, tickwidth: 1.5, tickcolor: 'black', showgrid: false},
    title: {text: '<b>Declination</b>', standoff: 4, font: {size: 18.6, family: 'Liberation Sans'}}
  })
};

Plotly.newPlot('plot', data, layout, {displayModeBar: false});
</script>
</body>
</html>
